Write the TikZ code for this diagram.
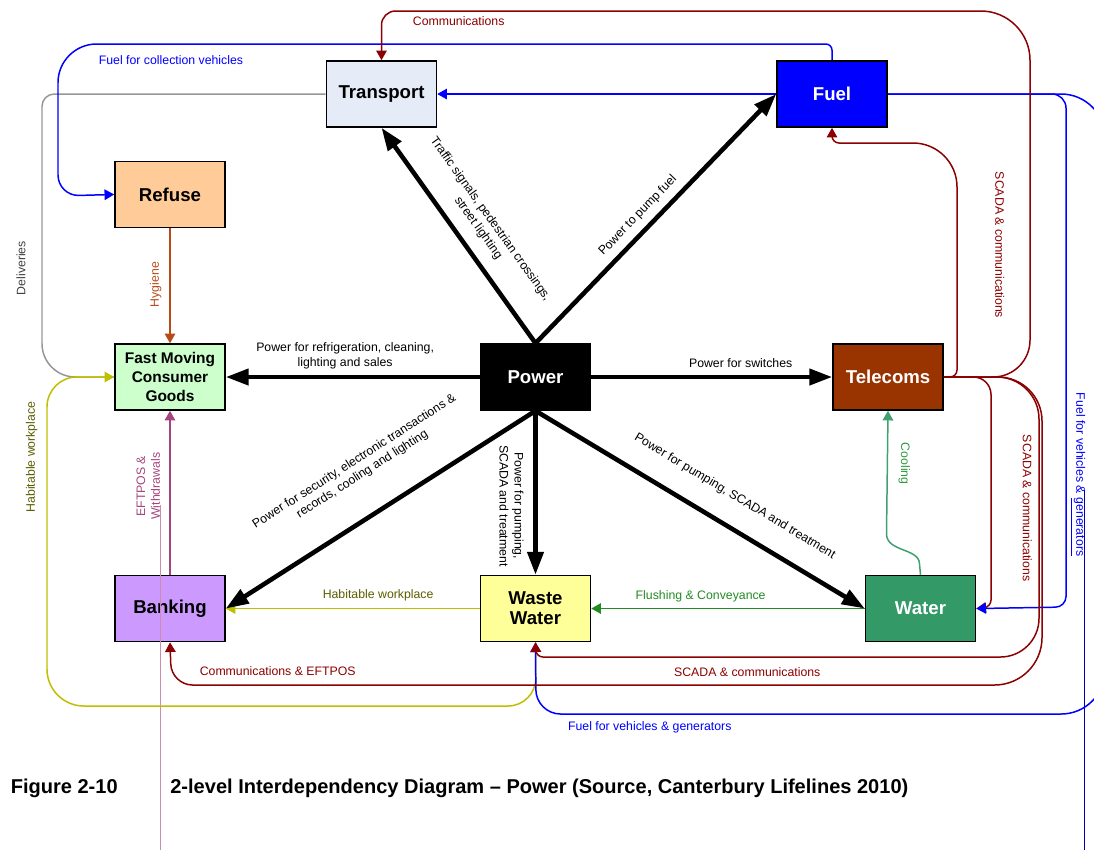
\documentclass[tikz,border=0pt]{standalone}
\usepackage{fontspec}
\setmainfont{Liberation Sans}
\usepackage{xcolor}
\usepackage{tikz}
\usetikzlibrary{arrows.meta, positioning}
\definecolor{powerfill}{HTML}{000000}
\definecolor{transfill}{HTML}{E6ECF7}
\definecolor{fuelfill}{HTML}{0000FF}
\definecolor{refusefill}{HTML}{FFCC99}
\definecolor{fmcgfill}{HTML}{CCFFCC}
\definecolor{telefill}{HTML}{993300}
\definecolor{bankfill}{HTML}{CC99FF}
\definecolor{wastefill}{HTML}{FFFF99}
\definecolor{waterfill}{HTML}{339966}
\definecolor{comms}{HTML}{8B0000}
\definecolor{fuelblue}{HTML}{0000FF}
\definecolor{habit}{HTML}{BFBF00}
\definecolor{habtext}{HTML}{5C5C00}
\definecolor{delgray}{HTML}{969696}
\definecolor{deltext}{HTML}{404040}
\definecolor{hyg}{HTML}{B84A18}
\definecolor{eftpos}{HTML}{A5457F}
\definecolor{pinkrule}{HTML}{CF8AB0}
\definecolor{flush}{HTML}{228B22}
\definecolor{cool}{HTML}{40A070}
\definecolor{cooltext}{HTML}{2E9A3E}
\newcommand{\boxfont}{\fontsize{10.6}{11.5}\selectfont\bfseries}
\newcommand{\fmcgfont}{\fontsize{8.8}{10.8}\selectfont\bfseries}
\newcommand{\linkfont}{\fontsize{7}{8.5}\selectfont}
\newcommand{\capfont}{\fontsize{11.4}{13}\selectfont\bfseries}
\tikzset{
  infra/.style={
    rectangle, draw=black, line width=0.9pt,
    minimum width=2.2cm, minimum height=1.32cm,
    inner sep=1pt, align=center, font=\boxfont,
  },
  powerlink/.style={-{Triangle[length=13pt,width=9pt]}, line width=2.6pt, color=black},
  dep/.style={-{Triangle[length=5.5pt,width=6pt]}, line width=0.85pt},
  plain/.style={line width=0.85pt},
  lbl/.style={font=\linkfont, inner sep=1pt, align=center},
}

\begin{document}
\begin{tikzpicture}[x=0.02cm,y=-0.02cm]
  \useasboundingbox (0,0) rectangle (1094,850);
  \node[infra,fill=powerfill,text=white] (power) at (535.5,377) {Power};
  \node[infra,fill=fmcgfill,font=\fmcgfont,left=5.08cm of power] (fmcg) {Fast Moving\\Consumer\\Goods};
  \node[infra,fill=telefill,text=white,right=4.82cm of power] (telecoms) {Telecoms};
  \node[infra,fill=wastefill,below=3.28cm of power] (waste) {Waste\\Water};
  \node[infra,fill=waterfill,text=white,right=5.47cm of waste] (water) {Water};
  \node[infra,fill=bankfill,below=3.28cm of fmcg] (banking) {Banking};
  \node[infra,fill=refusefill,above=2.3cm of fmcg] (refuse) {Refuse};
  \node[infra,fill=transfill] (transport) at (381.5,94) {Transport};
  \node[infra,fill=fuelfill,text=white] (fuel) at (832,94) {Fuel};
  \node[font=\capfont,anchor=west,inner sep=0pt] (fignum) at (10.5,788) {Figure 2-10};
  \node[font=\capfont,anchor=west,inner sep=0pt] (figtitle) at (170,788) {2-level Interdependency Diagram -- Power (Source, Canterbury Lifelines 2010)};
  \coordinate (pinktop) at (160.6,505);
  \coordinate (pinkend) at (160.6,850);
  \coordinate (ruletop) at (1084,490);
  \coordinate (ruleend) at (1084,850);
  \draw[pinkrule,line width=0.6pt] (pinktop)--(pinkend);
  \draw[fuelblue!70!black,line width=0.5pt] (ruletop)--(ruleend);

  \draw[plain,delgray] (transport.west) [rounded corners=7pt]--(42,94) [rounded corners=19pt]--node[lbl,text=deltext,pos=.615,xshift=-8pt,rotate=90,anchor=south]{Deliveries}(42,377)--(fmcg.west);
  \draw[dep,habit] (waste.south) [rounded corners=16pt]--(536,706) [rounded corners=21pt]--(47,706) [rounded corners=17pt]--node[lbl,text=habtext,pos=.757,xshift=-4pt,rotate=90,anchor=south]{Habitable workplace}(47,377)--(fmcg.west);
  \draw[dep,habit] (waste.west)--node[lbl,text=habtext,pos=.4,above=3pt]{Habitable workplace}(banking.east);
  \draw[dep,flush] (water.west)--node[lbl,text=flush,pos=.6,above=2pt]{Flushing \& Conveyance}(waste.east);
  \draw[dep,cool] (water.north)--(919.5,564) .. controls (919.5,548) and (886.5,552) .. (886.5,534)--node[lbl,text=cooltext,pos=.57,xshift=5pt,rotate=-90,anchor=south]{Cooling}(telecoms.south);
  \draw[dep,hyg] (refuse.south)--node[lbl,text=hyg,pos=.49,xshift=-3.4pt,rotate=90,anchor=south]{Hygiene}(fmcg.north);
  \draw[dep,eftpos] (banking.north)--node[lbl,text=eftpos,pos=.54,xshift=-4.2pt,rotate=90,anchor=south]{EFTPOS \&\\Withdrawals}(fmcg.south);

  \draw[dep,comms] (telecoms.east) [rounded corners=10pt]--(991,377) [rounded corners=4pt]--node[lbl,text=comms,pos=.57,xshift=16.7pt,rotate=-90,anchor=south]{SCADA \& communications}(991,607)--(water.east);
  \draw[dep,fuelblue] (fuel.west)--(transport.east);
  \draw[dep,fuelblue] (fuel.north) [rounded corners=3.5pt]--(832,44) [rounded corners=22pt]--node[lbl,text=fuelblue,pos=.854,below=5pt]{Fuel for collection vehicles}(58,44) [rounded corners=12pt]--(58,196)--(refuse.west);
  \draw[dep,fuelblue] (fuel.east) [rounded corners=8pt]--(1066,94) [rounded corners=6pt]--node[lbl,text=fuelblue,pos=.742,xshift=1pt,rotate=-90,anchor=south]{Fuel for vehicles \& \underline{generators}}(1066,607)--(water.east);
  \draw[dep,fuelblue] (fuel.east) [rounded corners=25pt]--(1105,94)--(1105,714) [rounded corners=14pt]--node[lbl,text=fuelblue,pos=.8,below=3pt]{Fuel for vehicles \& generators}(536,714)--(waste.south);
  \draw[dep,comms] (telecoms.east) [rounded corners=21pt]--(1030,377) [rounded corners=28pt]--(1030,11) [rounded corners=8pt]--node[lbl,text=comms,pos=.881,below=2pt]{Communications}(381.5,11)--(transport.north);
  \draw[dep,comms] (telecoms.east) [rounded corners=4pt]--(957,377) [rounded corners=25pt]--node[lbl,text=comms,pos=.564,xshift=20.4pt,rotate=-90,anchor=south]{SCADA \& communications}(957,143) [rounded corners=4pt]--(832,143)--(fuel.south);
  \draw[dep,comms] (telecoms.east) [rounded corners=24pt]--(1039,377) [rounded corners=22pt]--(1039,657) [rounded corners=4pt]--node[lbl,text=comms,pos=.58,below=4.5pt]{SCADA \& communications}(536,657)--(waste.south);
  \draw[dep,comms] (telecoms.east) [rounded corners=25pt]--(1042,377) [rounded corners=27pt]--(1042,685) [rounded corners=12pt]--node[lbl,text=comms,pos=.878,above=4pt]{Communications \& EFTPOS}(171.5,685)--(banking.south);

  \draw[powerlink] (power.north)--node[lbl,sloped,pos=.48,above=6pt]{Traffic signals, pedestrian crossings,\\street lighting}(transport.south);
  \draw[powerlink] (power.north)--node[lbl,sloped,pos=.47,above=3pt]{Power to pump fuel}(fuel.west);
  \draw[powerlink] (power.west)--node[lbl,pos=.53,above=2pt]{Power for refrigeration, cleaning,\\lighting and sales}(fmcg.east);
  \draw[powerlink] (power.east)--node[lbl,pos=.62,above=3pt]{Power for switches}(telecoms.west);
  \draw[powerlink] (power.south)--node[lbl,sloped,pos=.49,above=17pt]{Power for security, electronic transactions \&\\records, cooling and lighting}(banking.east);
  \draw[powerlink] (power.south)--node[lbl,pos=.58,xshift=-4.5pt,rotate=-90,anchor=north]{Power for pumping,\\SCADA and treatment}(waste.north);
  \draw[powerlink] (power.south)--node[lbl,sloped,pos=.56,above=11pt]{Power for pumping, SCADA and treatment}(water.west);
\end{tikzpicture}
\end{document}
